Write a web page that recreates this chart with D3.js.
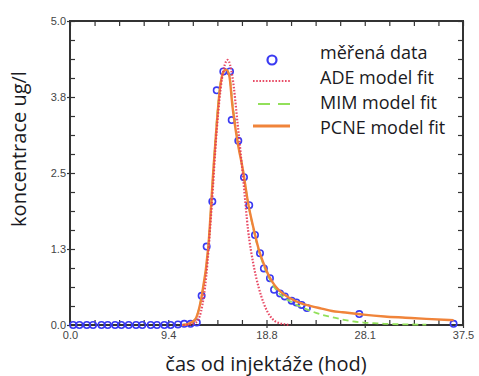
<!DOCTYPE html>
<html>
<head>
<meta charset="utf-8">
<script src="https://cdn.jsdelivr.net/npm/d3@7"></script>
<style>
  html, body { margin: 0; padding: 0; background: #fff; }
  svg { display: block; }
</style>
</head>
<body>
<svg id="chart" width="479" height="376"></svg>
<script>
// Measured tracer concentrations (time in hours, concentration in ug/l)
const measuredT = [0.3, 0.9, 1.6, 2.2, 3.0, 3.6, 4.3, 4.9, 5.6, 6.3, 6.9, 7.7, 8.3, 9.0, 9.6, 10.3, 10.9, 11.5, 12.1,
  12.56, 13.04, 13.58, 14.0, 14.63, 15.27, 15.43, 16.06, 16.6, 17.1, 17.65, 18.13, 18.5, 19.08, 19.47,
  20.04, 20.5, 21.15, 21.6, 22.1, 22.6, 27.6, 36.6];
const measuredC = [0, 0, 0, 0, 0, 0, 0, 0, 0, 0, 0, 0, 0, 0, 0, 0.01, 0.02, 0.02, 0.04,
  0.48, 1.29, 2.03, 3.86, 4.17, 4.17, 3.37, 3.03, 2.43, 1.97, 1.48, 1.18, 0.93, 0.77, 0.58,
  0.52, 0.47, 0.40, 0.37, 0.33, 0.28, 0.18, 0.02];

// ADE model fit
const adeT = [10.8, 11.5, 12.0, 12.5, 13.0, 13.5, 14.0, 14.5, 15.05, 15.5, 16.0, 16.5, 17.0, 17.5, 18.0, 18.5, 19.0, 19.5, 20.0, 20.5, 21.0];
const adeC = [0, 0.01, 0.04, 0.22, 0.8, 1.9, 3.2, 4.05, 4.36, 4.08, 3.3, 2.45, 1.55, 1.0, 0.62, 0.35, 0.17, 0.07, 0.03, 0.01, 0];

// MIM model fit
const mimT = [10.7, 11.3, 11.9, 12.56, 13.2, 13.7, 14.0, 14.3, 14.6, 14.9, 15.2, 15.5, 16.0, 16.5, 17.0, 17.5, 18.0, 18.5, 19.0, 19.5, 20.0, 21.0, 22.0, 23.0, 24.0, 25.0, 26.0, 27.0, 28.0, 29.0, 30.0, 32.0, 34.0];
const mimC = [0, 0.02, 0.08, 0.47, 1.29, 2.6, 3.35, 3.9, 4.15, 4.2, 4.12, 3.65, 3.02, 2.55, 2.0, 1.58, 1.23, 0.97, 0.77, 0.62, 0.51, 0.39, 0.3, 0.23, 0.17, 0.13, 0.09, 0.06, 0.04, 0.03, 0.02, 0.01, 0.005];

// PCNE model fit
const pcneT = [10.7, 11.3, 11.9, 12.56, 13.2, 13.7, 14.0, 14.3, 14.6, 14.9, 15.2, 15.5, 16.0, 16.5, 17.0, 17.5, 18.0, 18.5, 19.0, 19.5, 20.0, 21.0, 22.0, 23.0, 24.0, 25.0, 26.0, 28.0, 30.0, 32.0, 34.0, 36.6];
const pcneC = [0, 0.02, 0.08, 0.47, 1.29, 2.6, 3.3, 3.88, 4.15, 4.2, 4.1, 3.6, 3.0, 2.55, 2.0, 1.6, 1.25, 1.0, 0.8, 0.66, 0.56, 0.44, 0.36, 0.31, 0.27, 0.23, 0.21, 0.17, 0.14, 0.12, 0.1, 0.08];

// Axis ticks
const xTickValues = [0, 9.375, 18.75, 28.125, 37.5];
const xTickLabels = ["0.0", "9.4", "18.8", "28.1", "37.5"];
const yTickValues = [0, 1.25, 2.5, 3.75, 5];
const yTickLabels = ["0.0", "1.3", "2.5", "3.8", "5.0"];

const legendLabels = ["měřená data", "ADE model fit", "MIM model fit", "PCNE model fit"];

const colors = { data: "#3a3af2", ade: "#e63a56", mim: "#92e05a", pcne: "#f0843a", frame: "#333", tick: "#444", text: "#1a1a22" };

const svg = d3.select("#chart");
svg.append("rect").attr("width", 479).attr("height", 376).attr("fill", "#fff");

const x = d3.scaleLinear().domain([0, 37.5]).range([70, 463]);
const y = d3.scaleLinear().domain([0, 5]).range([325, 21]);

const xMinor = d3.range(17).map(i => i * 37.5 / 16);
const yMinor = d3.range(17).map(i => i * 5 / 16);

// Frame
svg.append("rect")
  .attr("x", x(0)).attr("y", y(5))
  .attr("width", x(37.5) - x(0)).attr("height", y(0) - y(5))
  .attr("fill", "none").attr("stroke", colors.frame).attr("stroke-width", 2);

// Inward minor ticks on all four sides
function tickAxis(axisFn, scale, vals, size, transform) {
  const g = svg.append("g").attr("transform", transform)
    .call(axisFn(scale).tickValues(vals).tickSize(size).tickFormat(""));
  g.select(".domain").remove();
  g.selectAll(".tick line").attr("stroke", colors.frame).attr("stroke-width", 1.2);
  return g;
}
tickAxis(d3.axisBottom, x, xMinor, -5, `translate(0,${y(0)})`);
tickAxis(d3.axisTop, x, xMinor, -5, `translate(0,${y(5)})`);
tickAxis(d3.axisLeft, y, yMinor, -5, `translate(${x(0)},0)`);
tickAxis(d3.axisRight, y, yMinor, -5, `translate(${x(37.5)},0)`);
// Major ticks poke slightly outside on the left/bottom
tickAxis(d3.axisBottom, x, xTickValues, 3, `translate(0,${y(0)})`);
tickAxis(d3.axisLeft, y, yTickValues, 3, `translate(${x(0)},0)`);

// Tick labels
const xLab = svg.append("g").attr("transform", `translate(0,${y(0)})`)
  .call(d3.axisBottom(x).tickValues(xTickValues).tickSize(0).tickPadding(6)
    .tickFormat((d, i) => xTickLabels[i]));
xLab.select(".domain").remove();
xLab.selectAll("text").attr("font-family", "Liberation Sans, Arial, sans-serif")
  .attr("font-size", 11).attr("fill", colors.tick);

const yLab = svg.append("g").attr("transform", `translate(${x(0)},0)`)
  .call(d3.axisLeft(y).tickValues(yTickValues).tickSize(0).tickPadding(4)
    .tickFormat((d, i) => yTickLabels[i]));
yLab.select(".domain").remove();
yLab.selectAll("text").attr("font-family", "Liberation Sans, Arial, sans-serif")
  .attr("font-size", 11).attr("fill", colors.tick);

// Axis titles
svg.append("text")
  .attr("x", 266).attr("y", 371)
  .attr("text-anchor", "middle")
  .attr("font-family", "Open Sans, sans-serif").attr("font-size", 20)
  .attr("fill", colors.text)
  .text("čas od injektáže (hod)");

svg.append("text")
  .attr("transform", "translate(26,149) rotate(-90)")
  .attr("text-anchor", "middle")
  .attr("font-family", "Open Sans, sans-serif").attr("font-size", 20)
  .attr("fill", colors.text)
  .text("koncentrace ug/l");

// Curves
const line = d3.line().x(d => x(d[0])).y(d => y(d[1])).curve(d3.curveMonotoneX);
const zip = (a, b) => a.map((v, i) => [v, b[i]]);

const plot = svg.append("g");

plot.selectAll("circle.meas")
  .data(zip(measuredT, measuredC))
  .join("circle").attr("class", "meas")
  .attr("cx", d => x(d[0])).attr("cy", d => y(d[1])).attr("r", 3.2)
  .attr("fill", "none").attr("stroke", colors.data).attr("stroke-width", 1.6);

plot.append("path").datum(zip(mimT, mimC)).attr("d", line)
  .attr("fill", "none").attr("stroke", colors.mim).attr("stroke-width", 1.8)
  .attr("stroke-dasharray", "6,4");

plot.append("path").datum(zip(pcneT, pcneC)).attr("d", line)
  .attr("fill", "none").attr("stroke", colors.pcne).attr("stroke-width", 2.4);

plot.append("path").datum(zip(adeT, adeC)).attr("d", line)
  .attr("fill", "none").attr("stroke", colors.ade).attr("stroke-width", 2.2)
  .attr("stroke-dasharray", "1.6,1.6").attr("stroke-opacity", 0.9);

// Legend
const legend = svg.append("g");
const rowY = [53, 78, 103, 128];
legendLabels.forEach((lab, i) => {
  legend.append("text")
    .attr("x", 320).attr("y", rowY[i] + 6)
    .attr("font-family", "Open Sans, sans-serif").attr("font-size", 18)
    .attr("fill", colors.text).text(lab);
});
legend.append("circle").attr("cx", 272).attr("cy", 60).attr("r", 4.5)
  .attr("fill", "none").attr("stroke", colors.data).attr("stroke-width", 2.2);
legend.append("line").attr("x1", 253).attr("x2", 290).attr("y1", 81).attr("y2", 81)
  .attr("stroke", colors.ade).attr("stroke-width", 2.2).attr("stroke-dasharray", "1.6,1.6")
  .attr("stroke-opacity", 0.9);
legend.append("line").attr("x1", 258).attr("x2", 290).attr("y1", 104).attr("y2", 104)
  .attr("stroke", colors.mim).attr("stroke-width", 1.8).attr("stroke-dasharray", "12,8");
legend.append("line").attr("x1", 253).attr("x2", 290).attr("y1", 126).attr("y2", 126)
  .attr("stroke", colors.pcne).attr("stroke-width", 3);
</script>
</body>
</html>
